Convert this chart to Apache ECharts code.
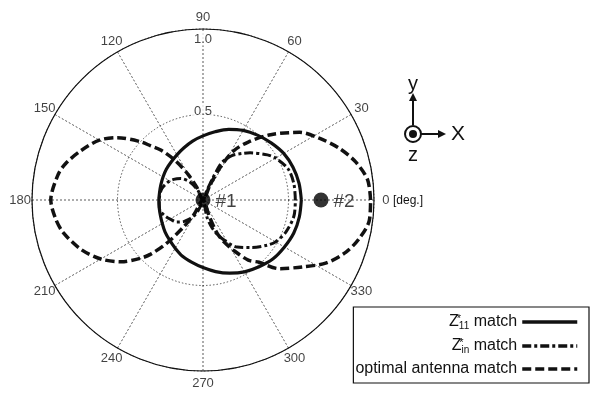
<!DOCTYPE html>
<html><head><meta charset="utf-8">
<script src="https://cdn.jsdelivr.net/npm/echarts@6/dist/echarts.min.js"></script>
<style>html,body{margin:0;padding:0;background:#fff}#c{width:591px;height:394px}</style>
</head><body><div id="c"></div>
<script>
// ---- data (angle in degrees, normalized radius) ----
const seriesNames = ['Z11* match', 'Zin* match', 'optimal antenna match'];

const z11Angle = [0,10,20,30,40,50,60,70,80,90,100,110,120,130,140,150,160,170,180,190,200,210,220,230,240,250,260,270,280,290,300,310,320,330,340,350,360];
const z11R     = [0.575,0.57,0.56,0.545,0.52,0.495,0.47,0.44,0.405,0.375,0.35,0.325,0.305,0.29,0.28,0.27,0.262,0.258,0.258,0.26,0.265,0.275,0.29,0.305,0.325,0.35,0.37,0.395,0.425,0.455,0.485,0.51,0.535,0.55,0.565,0.572,0.575];

const zinAngle = [0,10,20,30,35,45,50,57,62,64,66,68,70,90,112,118,126,136,145,153,165,180,193,203,211,220,228,235,240,245,250,253,270,280,283,288,295,306,316,325,330,339,350,360];
const zinR     = [0.54,0.54,0.53,0.49,0.46,0.39,0.355,0.31,0.26,0.23,0.14,0.05,0,0,0,0.06,0.13,0.18,0.21,0.23,0.25,0.256,0.26,0.24,0.22,0.2,0.17,0.135,0.11,0.07,0.02,0,0,0,0.1,0.17,0.24,0.34,0.4,0.46,0.49,0.52,0.54,0.54];

const optAngle = [0,7,14,21,28,35,44,52,58,62,65,67,90,113,116,120,125,130,134,137,144,150,158,165,170,180,187,193,202,210,217,223,226,230,234,238,241,270,289,291,293,297,301,307,312,318,326,333,340,346,353,360];
const optR     = [0.98,0.97,0.92,0.85,0.77,0.69,0.55,0.43,0.34,0.22,0.1,0,0,0,0.08,0.17,0.28,0.38,0.44,0.5,0.62,0.7,0.77,0.83,0.86,0.89,0.87,0.84,0.77,0.69,0.6,0.5,0.44,0.33,0.2,0.1,0,0,0,0.1,0.21,0.28,0.34,0.44,0.49,0.6,0.7,0.81,0.89,0.94,0.98,0.98];

const elementR = [0, 0.69];          // #1 at centre, #2 on 0 deg
const elementNames = ['#1', '#2'];
const radiusLabels = [1.0, 0.5];
const angleTickLabels = [0, 30, 60, 90, 120, 150, 180, 210, 240, 270, 300, 330];

function pairs(rs, as) { return rs.map((r, i) => [r, as[i]]); }

const chart = echarts.init(document.getElementById('c'));
const ink = '#111';
const fontFam = 'Liberation Sans, Arial, sans-serif';

chart.setOption({
  backgroundColor: '#fff',
  animation: false,
  polar: { center: [203, 200], radius: 171 },
  angleAxis: {
    type: 'value', min: 0, max: 360, interval: 30, startAngle: 0, clockwise: false,
    axisLine: { lineStyle: { color: ink, width: 1.2 } },
    axisTick: { show: false },
    axisLabel: { show: false },
    splitLine: { show: true, lineStyle: { color: ink, width: 0.7, type: [2, 2] } }
  },
  radiusAxis: {
    type: 'value', min: 0, max: 1, interval: 0.5,
    axisLine: { show: false }, axisTick: { show: false }, axisLabel: { show: false },
    splitLine: { show: true, lineStyle: { color: ink, width: 0.7, type: [1.5, 2] } }
  },
  legend: {
    orient: 'vertical', right: 2, top: 307, align: 'right',
    itemWidth: 55, itemHeight: 14, itemGap: 6,
    padding: [6, 10, 6, 2],
    borderColor: ink, borderWidth: 1.2,
    itemStyle: { opacity: 0 },
    lineStyle: { width: 3.5 },
    data: seriesNames,
    textStyle: { color: ink, fontSize: 16, fontFamily: fontFam,
      rich: {
        z: { fontSize: 16, fontFamily: fontFam, color: ink },
        sup: { fontSize: 11, fontFamily: fontFam, color: ink, verticalAlign: 'top', width: 0, align: 'left', padding: [0,0,7,0] },
        sub: { fontSize: 10, fontFamily: fontFam, color: ink, verticalAlign: 'bottom', padding: [6,0,0,0] },
        t: { fontSize: 16, fontFamily: fontFam, color: ink }
      } },
    formatter: function (name) {
      if (name === seriesNames[0]) return '{z|Z}{sup|*}{sub|11}{t| match}';
      if (name === seriesNames[1]) return '{z|Z}{sup|*}{sub|in}{t| match}';
      return name;
    }
  },
  series: [
    { name: seriesNames[0], type: 'line', coordinateSystem: 'polar', smooth: 0.3, symbol: 'none',
      data: pairs(z11R, z11Angle), lineStyle: { color: ink, width: 3.2 }, itemStyle: { color: ink }, z: 4 },
    { name: seriesNames[1], type: 'line', coordinateSystem: 'polar', smooth: 0.3, symbol: 'none',
      data: pairs(zinR, zinAngle), lineStyle: { color: ink, width: 3, type: [9, 3, 3, 3] }, itemStyle: { color: ink }, z: 4 },
    { name: seriesNames[2], type: 'line', coordinateSystem: 'polar', smooth: 0.3, symbol: 'none',
      data: pairs(optR, optAngle), lineStyle: { color: ink, width: 3.5, type: [9, 4] }, itemStyle: { color: ink }, z: 4 },
    { type: 'scatter', coordinateSystem: 'polar', symbol: 'circle', symbolSize: 15, silent: true, z: 6,
      itemStyle: { color: '#000' },
      data: elementR.map((r, i) => ({ value: [r, 0], name: elementNames[i] })),
      label: { show: true, position: 'right', distance: 5, formatter: p => p.name,
        color: ink, fontSize: 19, fontFamily: fontFam, offset: [0, 2] } },
    { type: 'scatter', coordinateSystem: 'polar', symbolSize: 0, silent: true, z: 7,
      data: radiusLabels.map(r => ({ value: [r, 90],
        label: { offset: r === 1 ? [0, 10] : [0, -3] } })),
      label: { show: true, position: 'inside', formatter: p => p.value[0].toFixed(1),
        color: ink, fontSize: 13, fontFamily: fontFam, backgroundColor: '#fff', padding: [0, 1] } },
    { type: 'scatter', coordinateSystem: 'polar', symbolSize: 0, silent: true, clip: false, z: 7,
      data: angleTickLabels.map(a => [1.07, a]),
      label: { show: true, position: 'inside', formatter: p => String(p.value[1]),
        color: ink, fontSize: 13, fontFamily: fontFam } }
  ],
  graphic: [
    { type: 'text', left: 393, top: 195, style: { text: '[deg.]', fontSize: 12, fontFamily: fontFam, fill: ink } },
    { type: 'text', x: 413, y: 84, style: { text: 'y', fontSize: 20, fontFamily: fontFam, fill: ink, align: 'center', verticalAlign: 'middle' } },
    { type: 'line', shape: { x1: 413, y1: 125, x2: 413, y2: 99 }, style: { stroke: ink, lineWidth: 2 } },
    { type: 'polygon', shape: { points: [[413, 93], [409, 101], [417, 101]] }, style: { fill: ink } },
    { type: 'circle', shape: { cx: 413, cy: 134, r: 8 }, style: { fill: '#fff', stroke: ink, lineWidth: 2 } },
    { type: 'circle', shape: { cx: 413, cy: 134, r: 4 }, style: { fill: ink } },
    { type: 'line', shape: { x1: 421, y1: 134, x2: 440, y2: 134 }, style: { stroke: ink, lineWidth: 2 } },
    { type: 'polygon', shape: { points: [[446, 134], [438, 130], [438, 138]] }, style: { fill: ink } },
    { type: 'text', x: 458, y: 134, style: { text: 'X', fontSize: 21, fontFamily: fontFam, fill: ink, align: 'center', verticalAlign: 'middle' } },
    { type: 'text', x: 413, y: 155, style: { text: 'z', fontSize: 20, fontFamily: fontFam, fill: ink, align: 'center', verticalAlign: 'middle' } }
  ]
});
</script>
</body></html>
